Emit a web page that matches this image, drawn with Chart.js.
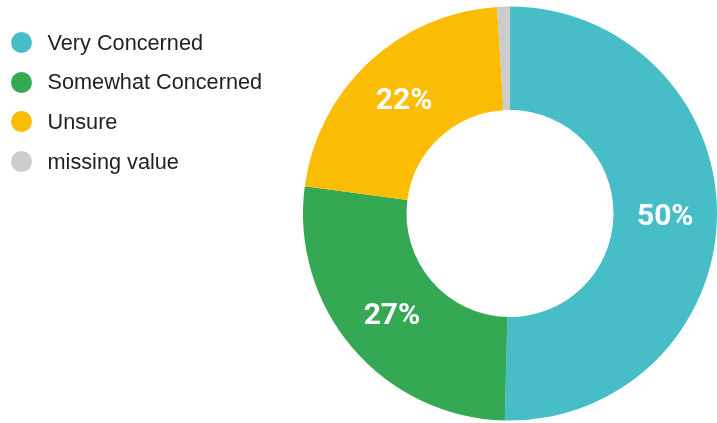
<!DOCTYPE html>
<html>
<head>
<meta charset="utf-8">
<script src="https://cdn.jsdelivr.net/npm/chart.js@4/dist/chart.umd.min.js"></script>
<style>
    body { margin: 0; background: #fff; }
    .wrap { position: relative; width: 717px; height: 423px; overflow: hidden; }
    .legend { position: absolute; left: 0; top: 23px; margin: 0; padding: 0; list-style: none;
        font-family: Arial, "Liberation Sans", Helvetica, sans-serif; font-size: 21.7px; color: #222; }
    .legend li { height: 39.6px; display: flex; align-items: center; }
    .legend .dot { width: 21px; height: 21px; border-radius: 50%; margin-left: 10.5px; margin-right: 16px; }
</style>
</head>
<body>
<div class="wrap">
    <canvas id="main_chart" width="717" height="423"></canvas>
    <ul class="legend"></ul>
</div>
<script>
// chart data
const labels = ["Very Concerned", "Somewhat Concerned", "Unsure", "missing value"];
const values = [50.4, 26.7, 21.9, 1.0];
const colors = ['#47bdc7', '#34a853', '#fbbc04', '#cccccc'];

// percent labels on the ring
const pctLabels = {
    id: 'pctLabels',
    afterDatasetsDraw(chart) {
        const ctx = chart.ctx;
        const meta = chart.getDatasetMeta(0);
        const total = values.reduce((a, b) => a + b, 0);
        ctx.save();
        ctx.font = 'bold 30px Roboto, Arial, sans-serif';
        ctx.fillStyle = '#fff';
        ctx.textAlign = 'center';
        ctx.textBaseline = 'middle';
        meta.data.forEach((arc, i) => {
            const pct = values[i] / total * 100;
            if (pct < 5) return;
            const p = arc.getCenterPoint();
            ctx.fillText(Math.round(pct) + '%', p.x, p.y + 2);
        });
        ctx.restore();
    }
};

let chart1 = new Chart(document.getElementById('main_chart'), {
    type: 'doughnut',
    data: {
        labels: labels,
        datasets: [{
            data: values,
            backgroundColor: colors,
            borderWidth: 0
        }]
    },
    options: {
        responsive: false,
        animation: false,
        cutout: '50%',
        layout: { padding: { left: 303, right: -2, top: 4, bottom: 0 } },
        plugins: {
            legend: { display: false },
            tooltip: { enabled: false }
        }
    },
    plugins: [pctLabels]
});

// html legend
const ul = document.querySelector('.legend');
labels.forEach((l, i) => {
    const li = document.createElement('li');
    li.innerHTML = '<span class="dot" style="background:' + colors[i] + '"></span>' + l;
    ul.appendChild(li);
});
</script>
</body>
</html>
